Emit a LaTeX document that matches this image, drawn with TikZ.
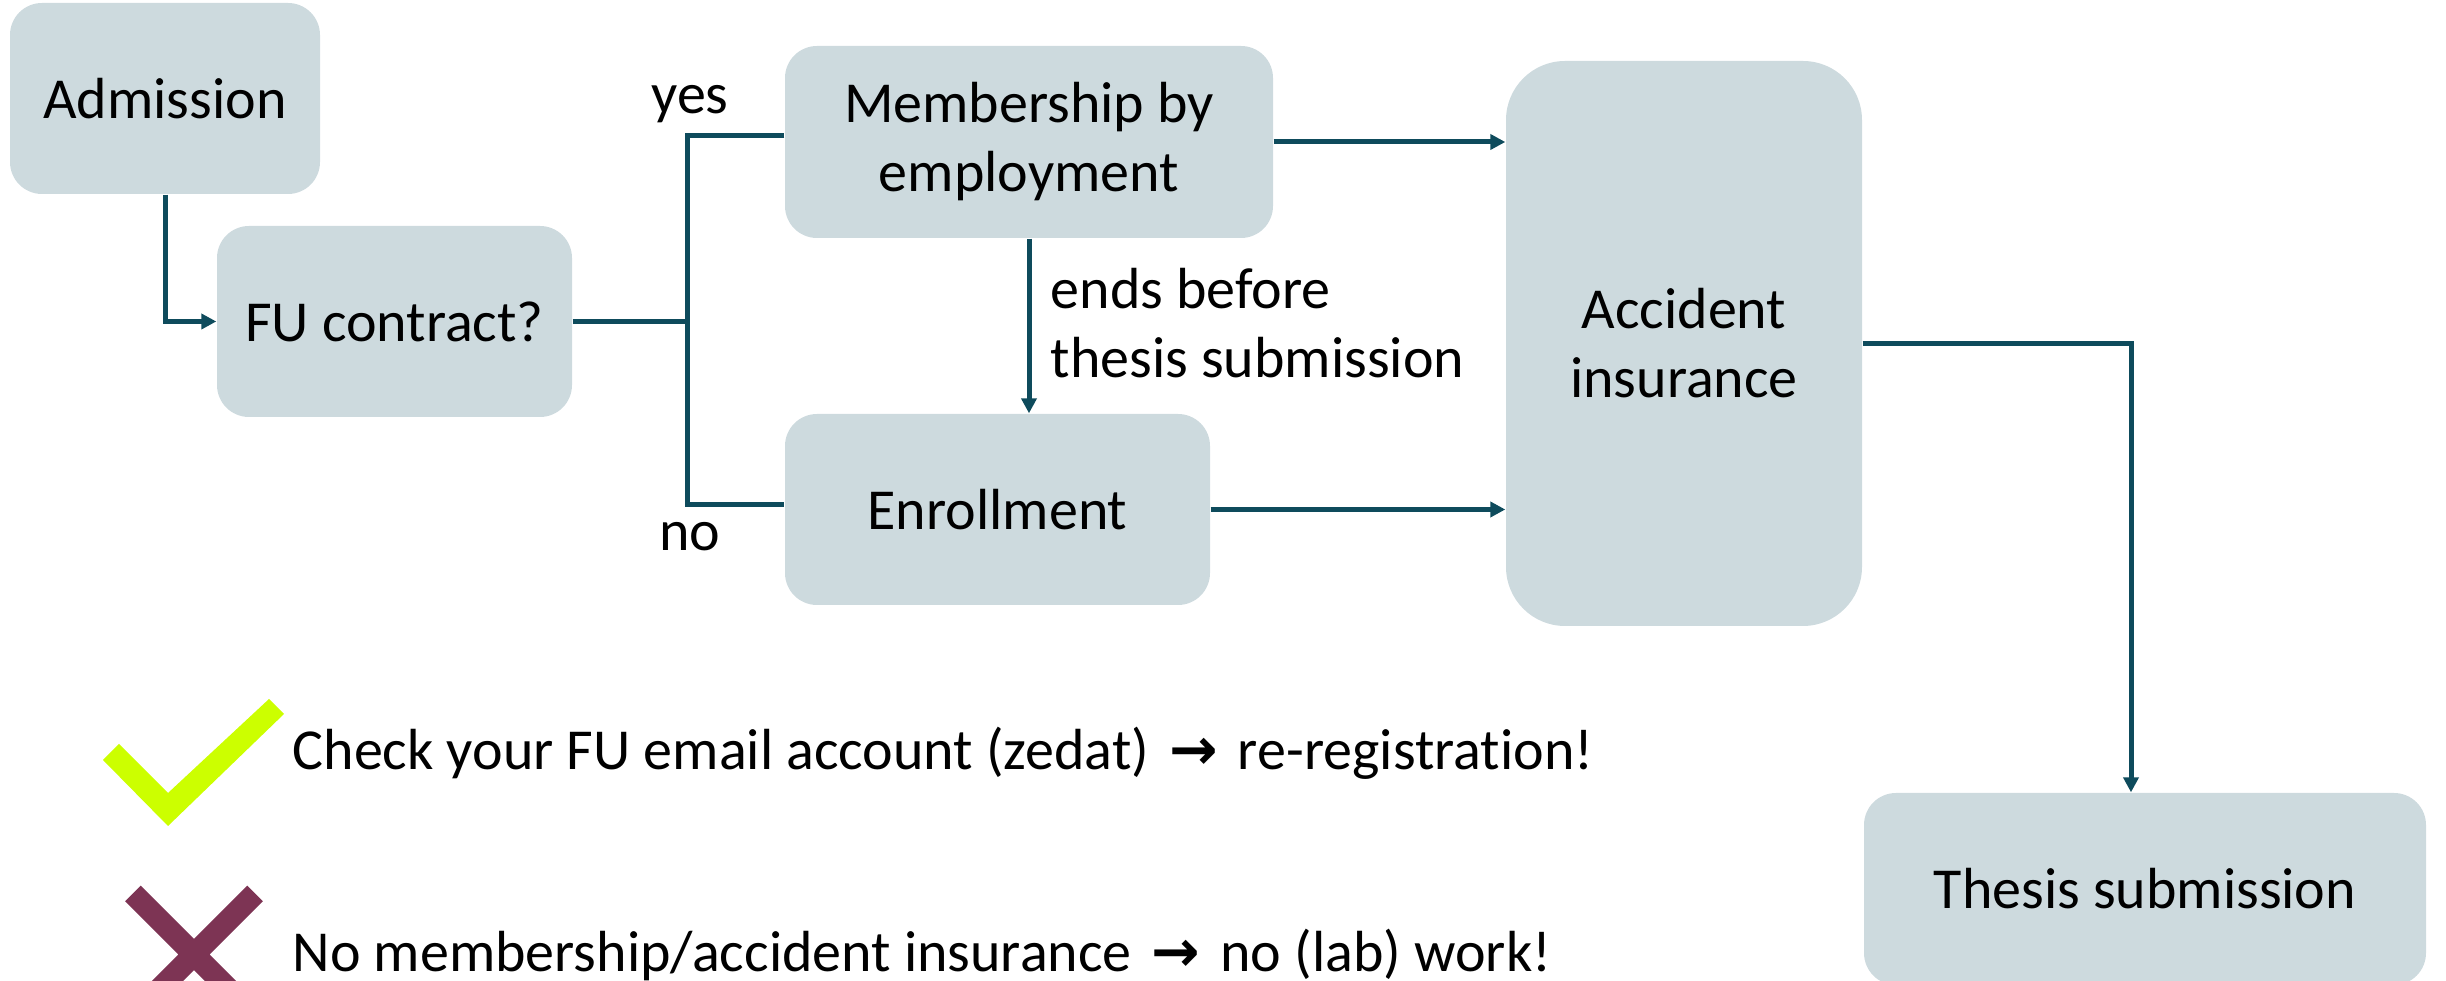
\documentclass[tikz,border=0pt]{standalone}
\usepackage{fontspec}
\setmainfont{Carlito}[Ligatures=NoCommon]
\newfontfamily\arrowfont{DejaVu Sans}
\usetikzlibrary{arrows.meta,calc}
\definecolor{boxfill}{RGB}{205,218,222}
\definecolor{linecol}{RGB}{14,75,92}
\definecolor{checkcol}{RGB}{204,255,0}
\definecolor{crosscol}{RGB}{125,52,84}
\newcommand{\mainsize}{\fontsize{17.4}{20.7}\selectfont}
\newcommand{\bigarrow}{\hspace{0.12em}{\arrowfont\bfseries →}\hspace{0.12em}}
\begin{document}
\begin{tikzpicture}[x=0.3pt,y=-0.3pt,
  box/.style={fill=boxfill, rounded corners=9.6pt, inner sep=0pt, align=center, font=\mainsize},
  conn/.style={draw=linecol, line width=1.5pt},
  arr/.style={conn, -{Triangle[length=4.5pt,width=4.5pt]}},
  lbl/.style={font=\mainsize, inner sep=0pt}]
\useasboundingbox (0,0) rectangle (2446,981);
\node[box, minimum width=93pt, minimum height=57.3pt] (adm) at (165,98.5) {Admission};
\node[box, minimum width=106.5pt, minimum height=57.3pt] (fu) at (394.5,321.5) {FU contract?};
\node[box, minimum width=146.4pt, minimum height=57.6pt] (mem) at (1029,142) {Membership by\\employment};
\node[box, minimum width=127.5pt, minimum height=57.3pt] (enr) at (997.5,509.5) {Enrollment};
\node[box, minimum width=106.8pt, minimum height=169.5pt, rounded corners=17.7pt] (acc) at (1684,343.5) {Accident\\insurance};
\node[box, minimum width=168.6pt, minimum height=57.6pt] (th) at (2145,889) {Thesis submission};

\coordinate (j) at (687,321.5);
\draw[arr] (adm.south) |- (fu.west);
\draw[conn] (fu.east) -- (j);
\draw[conn] ([yshift=1.8pt]mem.west) -| (j) |- ([yshift=1.4pt]enr.west);
\draw[arr] (mem.east) -- (mem.east -| acc.west);
\draw[arr] (enr.east) -- (enr.east -| acc.west);
\draw[arr] (mem.south) -- (mem.south |- enr.north);
\draw[arr] (acc.east) -| ([xshift=-4.2pt]th.north);

\node[lbl, anchor=base] (yes) at (690,114) {yes};
\node[lbl, anchor=base] (no) at (690,551) {no};
\node[lbl, anchor=west, align=left] (ends) at (1050,323) {ends before\\thesis submission};

\fill[checkcol] (103,760) -- (119,744) -- (168,793) -- (269,699) -- (284,714) -- (168,826) -- cycle;
\draw[crosscol, line width=6.6pt] (133,893.5) -- (255,1015.5) (255,893.5) -- (133,1015.5);
\node[lbl, anchor=base west] (t1) at (292,770) {Check your FU email account (zedat) \bigarrow{} re-registration!};
\node[lbl, anchor=base west] (t2) at (292,972) {No membership/accident insurance \bigarrow{} no (lab) work!};
\end{tikzpicture}
\end{document}
